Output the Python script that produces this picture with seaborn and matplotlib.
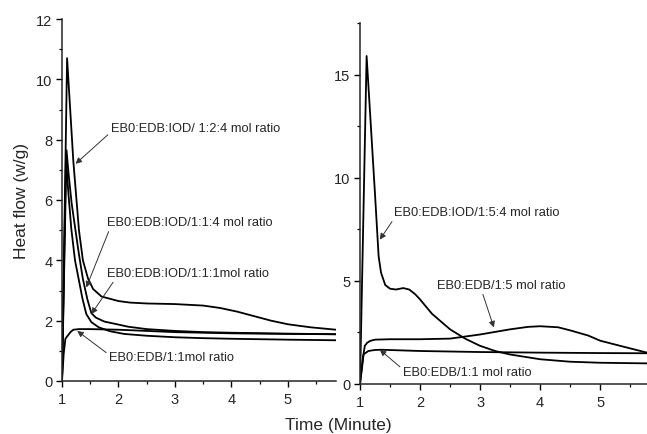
import matplotlib
matplotlib.use("Agg")
import matplotlib.pyplot as plt
import seaborn as sns
from matplotlib.ticker import MultipleLocator

# ---------------- data ----------------
# Left panel
x_124 = [1.0, 1.09, 1.2, 1.3, 1.37, 1.46, 1.55, 1.7, 2.0, 2.2, 2.5, 3.0, 3.5, 3.8, 4.1, 4.4, 4.7, 5.0, 5.4, 5.85]
y_124 = [0, 10.7, 7.3, 5.0, 4.0, 3.4, 3.05, 2.8, 2.65, 2.6, 2.57, 2.55, 2.5, 2.42, 2.3, 2.15, 2.0, 1.88, 1.78, 1.7]

x_114 = [1.0, 1.08, 1.12, 1.17, 1.235, 1.3, 1.37, 1.45, 1.52, 1.6, 1.75, 2.0, 2.17, 2.5, 3.0, 3.5, 4.0, 5.0, 5.85]
y_114 = [0, 7.65, 6.8, 5.9, 5.04, 4.2, 3.38, 2.7, 2.25, 2.1, 1.97, 1.87, 1.8, 1.72, 1.66, 1.62, 1.6, 1.57, 1.55]

x_111 = [1.0, 1.07, 1.11, 1.165, 1.23, 1.295, 1.36, 1.43, 1.52, 1.65, 1.85, 2.1, 2.5, 3.0, 3.5, 4.0, 5.0, 5.85]
y_111 = [0, 7.4, 6.3, 5.04, 4.0, 3.38, 2.75, 2.22, 1.95, 1.78, 1.65, 1.56, 1.5, 1.45, 1.42, 1.4, 1.37, 1.35]

x_11a = [1.0, 1.03, 1.06, 1.1, 1.15, 1.2, 1.3, 1.5, 2.0, 2.5, 3.0, 4.0, 5.0, 5.85]
y_11a = [0, 0.9, 1.4, 1.5, 1.62, 1.7, 1.72, 1.72, 1.7, 1.66, 1.62, 1.58, 1.56, 1.55]

# Right panel
x_154 = [1.0, 1.11, 1.25, 1.29, 1.31, 1.35, 1.42, 1.5, 1.6, 1.72, 1.82, 1.92, 2.0, 2.2, 2.5, 2.75, 3.0, 3.25, 3.5, 4.0, 4.5, 5.0, 5.78]
y_154 = [0, 15.9, 9.2, 7.2, 6.2, 5.4, 4.8, 4.62, 4.58, 4.65, 4.58, 4.35, 4.1, 3.4, 2.65, 2.2, 1.85, 1.6, 1.43, 1.2, 1.08, 1.03, 1.0]

x_15 = [1.0, 1.05, 1.08, 1.12, 1.17, 1.25, 1.5, 2.0, 2.5, 3.0, 3.5, 3.8, 4.0, 4.3, 4.5, 4.8, 5.0, 5.4, 5.78]
y_15 = [0, 1.3, 1.85, 2.0, 2.09, 2.15, 2.17, 2.17, 2.2, 2.4, 2.65, 2.77, 2.8, 2.75, 2.6, 2.35, 2.1, 1.8, 1.52]

x_11b = [1.0, 1.06, 1.14, 1.25, 1.36, 2.0, 3.0, 4.0, 5.0, 5.78]
y_11b = [0, 1.44, 1.6, 1.65, 1.66, 1.6, 1.55, 1.52, 1.5, 1.49]

left_labels = ["EB0:EDB:IOD/ 1:2:4 mol ratio", "EB0:EDB:IOD/1:1:4 mol ratio",
               "EB0:EDB:IOD/1:1:1mol ratio", "EB0:EDB/1:1mol ratio"]
right_labels = ["EB0:EDB:IOD/1:5:4 mol ratio", "EB0:EDB/1:5 mol ratio", "EB0:EDB/1:1 mol ratio"]
x_ticks = [1, 2, 3, 4, 5]
left_yticks = [0, 2, 4, 6, 8, 10, 12]
right_yticks = [0, 5, 10, 15]

# ---------------- style ----------------
sns.set_style("ticks")
plt.rcParams['font.family'] = ['Liberation Sans', 'DejaVu Sans']
plt.rcParams['xtick.direction'] = 'out'
plt.rcParams['ytick.direction'] = 'out'

fig = plt.figure(figsize=(6.47, 4.35), dpi=100)
axL = fig.add_axes([62/647, 1-382/435, (336-62)/647, (382-20)/435])
axR = fig.add_axes([360/647, 1-385/435, (647-360)/647, (385-24)/435])

lw = 1.3
for xs, ys in [(x_124, y_124), (x_114, y_114), (x_111, y_111), (x_11a, y_11a)]:
    sns.lineplot(x=xs, y=ys, ax=axL, color='black', lw=lw, estimator=None, sort=False)
for xs, ys in [(x_154, y_154), (x_15, y_15), (x_11b, y_11b)]:
    sns.lineplot(x=xs, y=ys, ax=axR, color='black', lw=lw, estimator=None, sort=False)

axL.set_xlim(1, 5.85)
axL.set_ylim(0, 12)
axR.set_xlim(1, 5.78)
axR.set_ylim(0, 17.5)

for ax in (axL, axR):
    sns.despine(ax=ax)
    ax.spines['left'].set_linewidth(1.1)
    ax.spines['bottom'].set_linewidth(1.1)
    ax.set_xticks(x_ticks)
    ax.xaxis.set_minor_locator(MultipleLocator(0.5))
    ax.tick_params(which='major', length=4, width=1.0, labelsize=10.5, pad=3, color='black')
    ax.tick_params(axis='x', which='major', pad=4)
    ax.tick_params(which='minor', length=2.5, width=0.9, color='black')
    ax.set_xlabel('')
    ax.set_ylabel('')

axL.set_yticks(left_yticks)
axL.yaxis.set_minor_locator(MultipleLocator(1))
axR.set_yticks(right_yticks)
axR.yaxis.set_minor_locator(MultipleLocator(2.5))

axL.set_ylabel('Heat flow (w/g)', fontsize=12.5, labelpad=5)
fig.text(338/647, 1-426/435, 'Time (Minute)', ha='center', va='center', fontsize=12.5)

def ap(rx, ry):
    return dict(arrowstyle='-|>', color='#333333', lw=0.7, mutation_scale=9,
                shrinkA=0, shrinkB=0, relpos=(rx, ry))

fs = 9.3
# left annotations
axL.annotate(left_labels[0], xy=(1.24, 7.2), xytext=(1.87, 8.38), fontsize=fs, va='center', arrowprops=ap(0.0, 0.2))
axL.annotate(left_labels[1], xy=(1.43, 3.1), xytext=(1.79, 5.26), fontsize=fs, va='center', arrowprops=ap(0.02, 0.0))
axL.annotate(left_labels[2], xy=(1.52, 2.22), xytext=(1.8, 3.58), fontsize=fs, va='center', arrowprops=ap(0.05, 0.0))
axL.annotate(left_labels[3], xy=(1.27, 1.66), xytext=(1.84, 0.78), fontsize=fs, va='center', arrowprops=ap(0.0, 0.7))
# right annotations
axR.annotate(right_labels[0], xy=(1.33, 7.0), xytext=(1.57, 8.32), fontsize=fs, va='center', arrowprops=ap(0.0, 0.0))
axR.annotate(right_labels[1], xy=(3.23, 2.74), xytext=(2.28, 4.79), fontsize=fs, va='center', arrowprops=ap(0.35, 0.0))
axR.annotate(right_labels[2], xy=(1.33, 1.66), xytext=(1.72, 0.58), fontsize=fs, va='center', arrowprops=ap(0.0, 0.7))

fig.savefig('out.png', dpi=100)
